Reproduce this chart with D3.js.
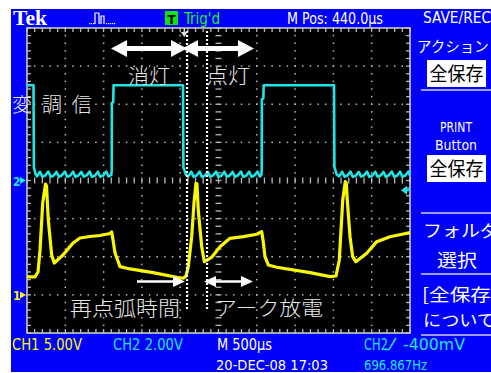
<!DOCTYPE html>
<html><head><meta charset="utf-8">
<script src="https://cdn.jsdelivr.net/npm/d3@7"></script>
<style>
html,body{margin:0;padding:0;background:#fff;overflow:hidden;}
svg{display:block;}
</style></head>
<body>
<svg id="c" width="491" height="373"></svg>
<script>
// ================= DATA =================
// time in µs from the left edge of the screen (500 µs/div, 10 div)
const timeDomain = [0, 5000];
// CH2 (cyan): 2 V/div, ground at screen centre
const ch2Domain = [-8, 8];
// CH1 (yellow): 5 V/div, ground 3 div below centre
const ch1Domain = [-5, 35];

// CH2 modulation signal [t µs, V]
const ch2Trace = [
  [0,5.0],[85,5.0],[90,0.7],[110,0.35],[130,0.22],[170,0.46],[200,0.2],[238,0.26],[278,0.47],[308,0.2],
  [346,0.25],[386,0.45],[416,0.19],[454,0.27],[494,0.47],[524,0.2],[562,0.25],[602,0.46],[632,0.19],
  [670,0.26],[710,0.45],[740,0.2],[778,0.27],[818,0.47],[848,0.19],[886,0.25],[926,0.46],[956,0.2],
  [994,0.26],[1034,0.47],[1064,0.21],[1100,0.3],
  [1106,0.5],[1108,4.07],[1126,4.1],[1130,5.0],[2037,5.0],
  [2042,0.7],[2075,0.3],[2105,0.22],[2145,0.46],[2175,0.2],[2213,0.26],[2253,0.47],[2283,0.19],
  [2321,0.25],[2361,0.45],[2391,0.2],[2429,0.27],[2469,0.47],[2499,0.19],[2537,0.25],[2577,0.46],
  [2607,0.2],[2645,0.26],[2685,0.45],[2715,0.19],[2753,0.27],[2793,0.47],[2823,0.2],[2861,0.25],
  [2901,0.46],[2931,0.2],[2969,0.26],[3009,0.47],[3039,0.21],[3060,0.3],
  [3064,0.5],[3066,4.27],[3085,4.3],[3090,5.0],[4008,5.0],
  [4013,0.7],[4045,0.3],[4075,0.22],[4115,0.46],[4145,0.2],[4183,0.26],[4223,0.47],[4253,0.19],
  [4291,0.25],[4331,0.45],[4361,0.2],[4399,0.27],[4439,0.47],[4469,0.19],[4507,0.25],[4547,0.46],
  [4577,0.2],[4615,0.26],[4655,0.45],[4685,0.19],[4723,0.27],[4763,0.47],[4793,0.2],[4831,0.25],
  [4871,0.46],[4901,0.2],[4939,0.26],[4979,0.47],[5000,0.25]
];

// CH1 lamp voltage [t µs, V]
const ch1Trace = [
  [0,2.35],[104,2.35],[144,3.0],[170,5.9],[205,12.05],[242,14.54],[255,14.28],[278,9.82],[322,5.23],
  [356,4.18],[470,5.23],[601,6.81],[692,7.46],[822,7.66],[953,7.79],[1084,8.05],[1106,8.25],[1123,7.2],
  [1149,5.5],[1214,3.7],[1345,3.4],[1645,2.91],[1954,2.31],[2041,2.18],[2076,2.48],[2106,3.7],
  [2150,7.63],[2180,12.05],[2206,14.64],[2219,14.55],[2236,11.1],[2281,6.32],[2315,4.35],[2411,4.93],
  [2520,6.32],[2650,7.42],[2824,7.63],[2999,7.95],[3064,8.29],[3081,7.2],[3107,5.01],[3150,3.92],
  [3260,3.62],[3695,2.91],[3956,2.39],[4034,2.48],[4077,4.58],[4122,12.45],[4155,14.85],[4168,14.68],
  [4181,12.45],[4217,7.63],[4252,5.01],[4292,4.35],[4435,5.46],[4565,6.98],[4739,7.63],[4913,7.99],
  [5000,8.16]
];

// annotation marks (times in µs)
const cursorTimes = [2089, 2350];
const bigArrows = [[1097, 2089], [2024, 2963]];      // 消灯 / 点灯 spans
const rightArrow = [1436, 2063];                     // 再点弧時間
const spanArrow = [2311, 2950];                      // アーク放電
const triggerTime = 2060;
const ch2TrigLevel = -0.4;

const labelTexts = ["消灯", "点灯", "変 調 信", "再点弧時間", "アーク放電"];
const headerTexts = ["Tek", "Trig'd", "M Pos: 440.0µs", "SAVE/REC"];
const footerTexts = ["CH1  5.00V", "CH2  2.00V", "M 500µs", "20-DEC-08 17:03", "CH2", "-400mV", "696.867Hz"];
const menuTexts = ["アクション", "全保存", "PRINT", "Button", "全保存", "フォルダ", "選択", "[全保存]", "について"];

// ================= DRAW =================
const svg = d3.select("#c");
const L = 27, R = 410, T = 28, B = 333;
const x = d3.scaleLinear().domain(timeDomain).range([L, R]);
const y2 = d3.scaleLinear().domain(ch2Domain).range([B, T]);
const y1 = d3.scaleLinear().domain(ch1Domain).range([B, T]);
const xd = d3.scaleLinear().domain([0, 10]).range([L, R]);
const yd = d3.scaleLinear().domain([-4, 4]).range([B, T]);

const BLUE = "#0000fc", CYAN = "#1ee6e6", YEL = "#f8f800", GRID = "#b8b8b8";
const UI = "'DejaVu Sans Condensed','DejaVu Sans',sans-serif";
const JP = "'Noto Sans CJK JP','Noto Sans CJK SC',sans-serif";

svg.append("rect").attr("width", 491).attr("height", 373).attr("fill", "#fff");
svg.append("rect").attr("x", 11).attr("y", 9).attr("width", 480).attr("height", 363).attr("fill", BLUE);
svg.append("rect").attr("x", L).attr("y", T).attr("width", R - L).attr("height", B - T).attr("fill", "#000");

// ---- graticule ----
const g = svg.append("g");
const minorX = d3.range(0, 50.001, 1).map(i => i / 5);
const minorY = d3.range(0, 40.001, 1).map(i => -4 + i / 5);
for (let i = 1; i < 10; i++) {
  if (i === 5) continue;
  minorY.forEach(v => g.append("rect").attr("x", xd(i) - 0.75).attr("y", yd(v) - 0.75).attr("width", 1.5).attr("height", 1.5).attr("fill", GRID));
}
for (let j = -3; j <= 3; j++) {
  if (j === 0) continue;
  minorX.forEach(u => g.append("rect").attr("x", xd(u) - 0.75).attr("y", yd(j) - 0.75).attr("width", 1.5).attr("height", 1.5).attr("fill", GRID));
}
minorY.forEach(v => g.append("line").attr("x1", xd(5) - 3).attr("x2", xd(5) + 3).attr("y1", yd(v)).attr("y2", yd(v)).attr("stroke", GRID).attr("stroke-width", 1.3));
minorX.forEach(u => g.append("line").attr("y1", yd(0) - 3).attr("y2", yd(0) + 3).attr("x1", xd(u)).attr("x2", xd(u)).attr("stroke", GRID).attr("stroke-width", 1.3));
minorX.forEach(u => {
  g.append("line").attr("x1", xd(u)).attr("x2", xd(u)).attr("y1", T).attr("y2", T + 4).attr("stroke", GRID).attr("stroke-width", 1.3);
  g.append("line").attr("x1", xd(u)).attr("x2", xd(u)).attr("y1", B - 4).attr("y2", B).attr("stroke", GRID).attr("stroke-width", 1.3);
});
minorY.forEach(v => {
  g.append("line").attr("x1", L).attr("x2", L + 4).attr("y1", yd(v)).attr("y2", yd(v)).attr("stroke", GRID).attr("stroke-width", 1.3);
  g.append("line").attr("x1", R - 4).attr("x2", R).attr("y1", yd(v)).attr("y2", yd(v)).attr("stroke", GRID).attr("stroke-width", 1.3);
});
g.append("rect").attr("x", L).attr("y", T).attr("width", R - L).attr("height", B - T)
  .attr("fill", "none").attr("stroke", "#c8c8c8").attr("stroke-width", 1.6);

// ---- traces ----
svg.append("clipPath").attr("id", "pc").append("rect").attr("x", L).attr("y", T).attr("width", R - L).attr("height", B - T);
const tr = svg.append("g").attr("clip-path", "url(#pc)");
tr.append("path").datum(ch1Trace)
  .attr("d", d3.line().x(d => x(d[0])).y(d => y1(d[1])))
  .attr("fill", "none").attr("stroke", YEL).attr("stroke-width", 3.2).attr("stroke-linejoin", "round");
tr.append("path").datum(ch2Trace)
  .attr("d", d3.line().x(d => x(d[0])).y(d => y2(d[1])))
  .attr("fill", "none").attr("stroke", CYAN).attr("stroke-width", 2.6).attr("stroke-linejoin", "round");

// ---- cursors (white dotted) ----
cursorTimes.forEach(t => {
  svg.append("line").attr("x1", x(t)).attr("x2", x(t)).attr("y1", T + 3).attr("y2", 311)
    .attr("stroke", "#fff").attr("stroke-width", 2.2).attr("stroke-dasharray", "2,2");
});
svg.append("line").attr("x1", x(triggerTime) - 0.5).attr("x2", x(triggerTime) - 0.5).attr("y1", T).attr("y2", T + 5).attr("stroke", "#ddd").attr("stroke-width", 1.5);
svg.append("path").attr("d", `M${x(triggerTime) - 4},${T + 4} L${x(triggerTime) + 3},${T + 4} L${x(triggerTime) - 0.5},${T + 9} Z`).attr("fill", "#ddd");

// ---- arrows ----
function dbl(x1, x2, yy, sh, hl, hh) {
  return `M${x1},${yy} L${x1 + hl},${yy - hh} L${x1 + hl},${yy - sh} L${x2 - hl},${yy - sh} L${x2 - hl},${yy - hh} L${x2},${yy} L${x2 - hl},${yy + hh} L${x2 - hl},${yy + sh} L${x1 + hl},${yy + sh} L${x1 + hl},${yy + hh} Z`;
}
function single(x1, x2, yy, sh, hl, hh) {
  return `M${x1},${yy - sh} L${x2 - hl},${yy - sh} L${x2 - hl},${yy - hh} L${x2},${yy} L${x2 - hl},${yy + hh} L${x2 - hl},${yy + sh} L${x1},${yy + sh} Z`;
}
bigArrows.forEach(a => svg.append("path").attr("d", dbl(x(a[0]), x(a[1]), 48.5, 2.6, 16, 8.5)).attr("fill", "#fff"));
svg.append("path").attr("d", single(x(rightArrow[0]), x(rightArrow[1]), 281.5, 1.2, 12, 5.5)).attr("fill", "#fff");
svg.append("path").attr("d", dbl(x(spanArrow[0]), x(spanArrow[1]), 281.5, 1.2, 12, 5.5)).attr("fill", "#fff");

// ---- Japanese annotations ----
function jp(txt, xx, yy, len, size) {
  svg.append("text").attr("x", xx).attr("y", yy).text(txt)
    .attr("font-family", JP).attr("font-size", size || 20).attr("font-weight", 300)
    .attr("fill", "#e6e6e6").attr("textLength", len).attr("lengthAdjust", "spacingAndGlyphs");
}
jp(labelTexts[0], 128, 84, 42);
jp(labelTexts[1], 206, 84, 44);
svg.append("text").attr("x", 12).attr("y", 112).attr("font-family", JP).attr("font-size", 20).attr("font-weight", 300)
  .attr("fill", "#e6e6e6").text(labelTexts[2]).attr("textLength", 80).attr("lengthAdjust", "spacing");
jp(labelTexts[3], 70, 316, 110);
jp(labelTexts[4], 215, 316, 108);

// ---- channel markers ----
svg.append("text").attr("x", 13).attr("y", 186).text("2").attr("font-family", UI).attr("font-size", 12).attr("font-weight", "bold").attr("fill", CYAN);
svg.append("path").attr("d", `M20,${y2(0) - 3.5} L26,${y2(0)} L20,${y2(0) + 3.5} Z`).attr("fill", CYAN);
svg.append("text").attr("x", 13).attr("y", 300).text("1").attr("font-family", UI).attr("font-size", 12).attr("font-weight", "bold").attr("fill", YEL);
svg.append("path").attr("d", `M20,${y1(0) - 3.5} L26,${y1(0)} L20,${y1(0) + 3.5} Z`).attr("fill", YEL);
const ty = y2(ch2TrigLevel) + 2;
svg.append("path").attr("d", `M401,${ty} L407,${ty - 4.5} L407,${ty - 1} L410,${ty - 1} L410,${ty + 1} L407,${ty + 1} L407,${ty + 4.5} Z`).attr("fill", CYAN);

// ---- header ----
function ui(txt, xx, yy, len, col, size, anchor) {
  const t = svg.append("text").attr("x", xx).attr("y", yy).text(txt)
    .attr("font-family", UI).attr("font-size", size || 15).attr("fill", col)
    .attr("text-anchor", anchor || "start");
  if (len) t.attr("textLength", len).attr("lengthAdjust", "spacingAndGlyphs");
  return t;
}
svg.append("text").attr("x", 13).attr("y", 25).text(headerTexts[0])
  .attr("font-family", "'Liberation Serif','DejaVu Serif',serif").attr("font-weight", "bold")
  .attr("font-size", 20).attr("fill", "#fff").attr("textLength", 34).attr("lengthAdjust", "spacingAndGlyphs");
const ic = svg.append("g").attr("fill", "none").attr("stroke", "#fff").attr("stroke-width", 1.2);
ic.append("path").attr("d", "M95,24 V13 H99 V24 M101,24 V16 H104 V24");
[89, 91, 93, 106, 108, 110, 112, 114].forEach(px => svg.append("rect").attr("x", px).attr("y", 23).attr("width", 1.2).attr("height", 1.2).attr("fill", "#fff"));
svg.append("rect").attr("x", 165).attr("y", 11).attr("width", 13).attr("height", 14).attr("fill", "#10e010");
ui("T", 171.5, 23.5, null, "#000", 13, "middle").attr("font-weight", "bold");
ui(headerTexts[1], 184, 24, 36, "#20f020", 15);
ui(headerTexts[2], 287, 24, 96, "#fff", 15);
ui(headerTexts[3], 423, 23, 68, "#fff", 15);

// ---- footer ----
ui(footerTexts[0], 12, 350, 70, YEL, 15);
ui(footerTexts[1], 113, 350, 70, CYAN, 15);
ui(footerTexts[2], 217, 350, 55, "#fff", 15);
ui(footerTexts[3], 216, 369.5, 112, "#fff", 14.5);
ui(footerTexts[4], 364, 350, 24, CYAN, 15);
svg.append("path").attr("d", "M384,349.5 H389 L396,338").attr("fill", "none").attr("stroke", CYAN).attr("stroke-width", 1.6);
ui(footerTexts[5], 403, 350, 62, CYAN, 15);
ui(footerTexts[6], 364, 369.5, 63, CYAN, 14.5);

// ---- side menu ----
function sep(yy) { svg.append("line").attr("x1", 421).attr("x2", 491).attr("y1", yy).attr("y2", yy).attr("stroke", "#d0d0ff").attr("stroke-width", 1.6); }
function mtxt(txt, xx, yy, size, anchor, col, len) {
  const t = svg.append("text").attr("x", xx).attr("y", yy).text(txt)
    .attr("font-family", JP).attr("font-size", size).attr("fill", col || "#fff").attr("text-anchor", anchor || "start");
  if (len) t.attr("textLength", len).attr("lengthAdjust", "spacingAndGlyphs");
}
mtxt(menuTexts[0], 417, 52, 14.5, "start", "#fff");
svg.append("rect").attr("x", 427).attr("y", 60).attr("width", 59).attr("height", 27).attr("fill", "#fff");
mtxt(menuTexts[1], 456.5, 81, 19, "middle", "#000", 54);
sep(90);
ui(menuTexts[2], 456, 132, 32, "#fff", 14, "middle");
ui(menuTexts[3], 456, 150, 42, "#fff", 14, "middle");
svg.append("rect").attr("x", 427).attr("y", 155).attr("width", 59).attr("height", 27).attr("fill", "#fff");
mtxt(menuTexts[4], 456.5, 176, 19, "middle", "#000", 54);
sep(213);
mtxt(menuTexts[5], 423, 237, 17, "start", "#fff", 76);
mtxt(menuTexts[6], 457, 267, 18, "middle", "#fff", 40);
sep(274);
mtxt(menuTexts[7], 422, 301, 17, "start", "#fff", 76);
mtxt(menuTexts[8], 423, 326, 16, "start", "#fff", 72);
sep(335);
</script>
</body></html>
